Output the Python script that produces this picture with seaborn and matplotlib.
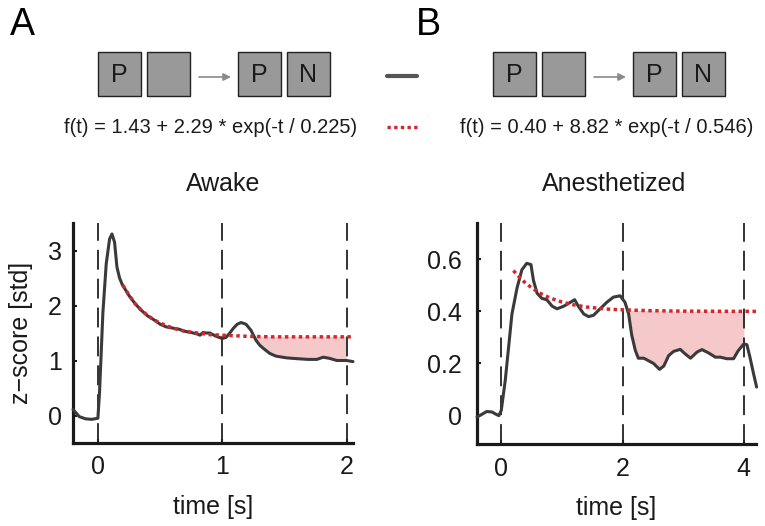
import numpy as np
import matplotlib
matplotlib.use("Agg")
import matplotlib.pyplot as plt
from matplotlib.patches import Rectangle
import seaborn as sns

sns.set_style("ticks")
plt.rcParams['font.family'] = ['Liberation Sans', 'DejaVu Sans']

# Awake (panel A): mean response and exponential fit
awake_time = [-0.20, -0.15, -0.10, -0.05, 0.00, 0.013, 0.04, 0.067, 0.094, 0.113, 0.134,
              0.153, 0.174, 0.196, 0.25, 0.30, 0.35, 0.40, 0.45, 0.50, 0.55, 0.60, 0.65,
              0.70, 0.75, 0.80, 0.82, 0.845, 0.87, 0.90, 0.95, 1.00, 1.03, 1.06, 1.09,
              1.12, 1.15, 1.19, 1.23, 1.27, 1.30, 1.33, 1.38, 1.43, 1.51, 1.56, 1.62,
              1.69, 1.76, 1.81, 1.86, 1.92, 1.97, 2.00, 2.05]
awake_z = [0.11, -0.02, -0.06, -0.07, -0.05, 0.41, 1.86, 2.76, 3.21, 3.30, 3.15,
           2.70, 2.50, 2.38, 2.18, 2.03, 1.91, 1.81, 1.74, 1.66, 1.61, 1.59, 1.57,
           1.53, 1.51, 1.48, 1.46, 1.51, 1.50, 1.50, 1.44, 1.40, 1.42, 1.50, 1.59,
           1.66, 1.69, 1.66, 1.55, 1.37, 1.28, 1.22, 1.13, 1.08, 1.05, 1.04, 1.03,
           1.02, 1.02, 1.06, 1.04, 1.00, 1.00, 1.00, 0.98]
awake_fit_time = [0.20, 0.25, 0.30, 0.35, 0.40, 0.45, 0.50, 0.60, 0.70, 0.80, 0.90,
                  1.00, 1.10, 1.20, 1.40, 1.60, 1.80, 2.05]
awake_fit = [2.37, 2.19, 2.03, 1.91, 1.82, 1.74, 1.68, 1.59, 1.53, 1.50, 1.47,
             1.46, 1.45, 1.44, 1.43, 1.43, 1.43, 1.43]

# Anesthetized (panel B)
anest_time = [-0.40, -0.35, -0.24, -0.15, -0.10, -0.04, 0.00, 0.066, 0.12, 0.176, 0.26,
              0.34, 0.42, 0.49, 0.53, 0.59, 0.67, 0.75, 0.84, 0.92, 1.03, 1.14, 1.21,
              1.27, 1.36, 1.44, 1.52, 1.63, 1.74, 1.85, 1.96, 2.04, 2.10, 2.15, 2.21,
              2.26, 2.35, 2.43, 2.51, 2.61, 2.68, 2.76, 2.84, 2.95, 3.03, 3.12, 3.23,
              3.31, 3.42, 3.53, 3.61, 3.72, 3.83, 3.91, 4.00, 4.05, 4.10, 4.16, 4.21]
anest_z = [-0.006, 0.0, 0.015, 0.013, 0.006, -0.001, 0.019, 0.135, 0.26, 0.39, 0.49,
           0.56, 0.585, 0.58, 0.52, 0.47, 0.45, 0.445, 0.42, 0.41, 0.42, 0.435, 0.445,
           0.42, 0.39, 0.38, 0.385, 0.41, 0.435, 0.455, 0.46, 0.435, 0.39, 0.31, 0.25,
           0.22, 0.22, 0.21, 0.20, 0.177, 0.19, 0.23, 0.246, 0.254, 0.237, 0.22, 0.244,
           0.253, 0.24, 0.224, 0.224, 0.218, 0.218, 0.25, 0.275, 0.272, 0.224, 0.16, 0.109]
anest_fit_time = [0.2, 0.3, 0.4, 0.5, 0.6, 0.7, 0.8, 0.9, 1.0, 1.2, 1.4, 1.6, 1.8,
                  2.0, 2.4, 3.0, 4.2]
anest_fit = [0.557, 0.531, 0.509, 0.491, 0.475, 0.463, 0.452, 0.444, 0.436, 0.425,
             0.417, 0.412, 0.408, 0.406, 0.403, 0.401, 0.400]

titles = ['Awake', 'Anesthetized']
panel_letters = ['A', 'B']
formulas = ['f(t) = 1.43 + 2.29 * exp(-t / 0.225)',
            'f(t) = 0.40 + 8.82 * exp(-t / 0.546)']

DATA_C = '#3a3a3a'
FIT_C = '#d7262b'
FILL_C = '#f5c8c9'
TXT_C = '#1a1a1a'
W, H = 765, 526

fig = plt.figure(figsize=(7.65, 5.26), dpi=100)

# overlay in pixel coordinates for the schematic on top
over = fig.add_axes([0, 0, 1, 1], zorder=-1)
over.set_xlim(0, W)
over.set_ylim(H, 0)
over.axis('off')


def schematic(x0):
    # x0: left edge of the first box
    boxes = [(0, 'P'), (49, ''), (140, 'P'), (189, 'N')]
    for dx, letter in boxes:
        over.add_patch(Rectangle((x0 + dx, 52), 43, 44, facecolor='#999999',
                                 edgecolor='#222222', lw=1.0))
        if letter:
            over.text(x0 + dx + 21.5, 75, letter, ha='center', va='center', fontsize=18,
                      color=TXT_C)
    over.annotate('', xy=(x0 + 133, 77), xytext=(x0 + 101, 77),
                  arrowprops=dict(arrowstyle='-|>', color='#8a8a8a', lw=1.2,
                                  mutation_scale=11, shrinkA=0, shrinkB=0))


schematic(98)
schematic(493)
over.text(211, 133, formulas[0], ha='center', va='baseline', fontsize=14.5, color=TXT_C)
over.text(607, 133, formulas[1], ha='center', va='baseline', fontsize=14.5, color=TXT_C)
over.plot([387, 417], [76, 76], color='#555555', lw=3)
over.plot([387, 417], [127, 127], color=FIT_C, lw=2.4, linestyle=(0, (1, 1)))
over.text(10, 35, panel_letters[0], fontsize=27, va='baseline', color='black')
over.text(416, 35, panel_letters[1], fontsize=27, va='baseline', color='black')

axA = fig.add_axes([73 / W, 83 / H, 280 / W, 220 / H])
axB = fig.add_axes([477 / W, 82 / H, 279 / W, 221 / H])

panels = [
    (axA, awake_time, awake_z, awake_fit_time, awake_fit, (-0.2, 2.05), (-0.5, 3.5),
     [0, 1, 2], [0, 1, 2, 3], ['0', '1', '2', '3'], (1, 2), 223, 8),
    (axB, anest_time, anest_z, anest_fit_time, anest_fit, (-0.4, 4.2), (-0.11, 0.74),
     [0, 2, 4], [0, 0.2, 0.4, 0.6], ['0', '0.2', '0.4', '0.6'], (2, 4), 614, 11),
]

for i, (ax, t, z, ft, fz, xl, yl, xt, yt, ytl, shade, cx, ypad) in enumerate(panels):
    t = np.array(t)
    z = np.array(z)
    fit_on_t = np.interp(t, ft, fz)
    mask = (t >= shade[0]) & (t <= shade[1]) & (z < fit_on_t)
    ax.fill_between(t, z, fit_on_t, where=mask, interpolate=True, color=FILL_C, lw=0, zorder=1)
    for v in xt:
        ax.axvline(v, color='#222222', lw=1.3, linestyle=(0, (11, 5)), zorder=2)
    sns.lineplot(x=ft, y=fz, ax=ax, color=FIT_C, lw=2.5, linestyle=(0, (1, 1)), zorder=4,
                 clip_on=False)
    sns.lineplot(x=t, y=z, ax=ax, color=DATA_C, lw=2.2, zorder=3, clip_on=False)
    ax.set_xlim(*xl)
    ax.set_ylim(*yl)
    ax.set_xticks(xt)
    ax.set_xticklabels([str(v) for v in xt])
    ax.set_yticks(yt)
    ax.set_yticklabels(ytl)
    sns.despine(ax=ax)
    for s in ['left', 'bottom']:
        ax.spines[s].set_linewidth(2.3)
        ax.spines[s].set_color('#1a1a1a')
    ax.tick_params(direction='in', length=3, width=1.5, color='#1a1a1a',
                   labelsize=18, labelcolor=TXT_C)
    ax.tick_params(axis='y', pad=ypad)
    ax.tick_params(axis='x', pad=9)
    ax.set_xlabel('time [s]', fontsize=18, color=TXT_C)
    ax.xaxis.set_label_coords(0.5, -0.235)
    ax.set_facecolor('none')
    fig.text(cx / W, 1 - 191 / H, titles[i], ha='center', va='baseline', fontsize=18,
             color=TXT_C)

axA.set_ylabel('z\u2212score [std]', fontsize=18, color=TXT_C)
axA.yaxis.set_label_coords(-0.143, 0.5)
axB.set_ylabel('')

fig.savefig('out.png', dpi=100)
